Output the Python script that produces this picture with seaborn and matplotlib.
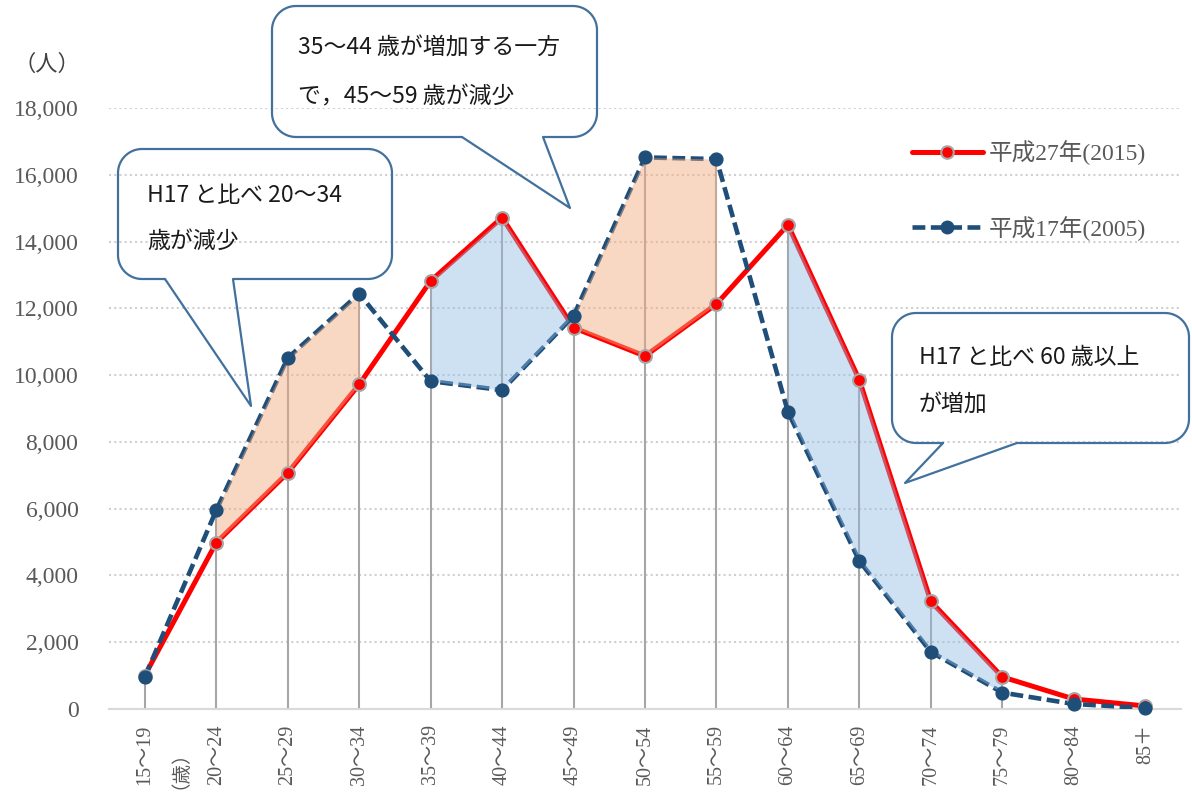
import matplotlib.pyplot as plt
import seaborn as sns
import numpy as np
import pandas as pd
from matplotlib.lines import Line2D

# 年齢階級
ages = ['15～19', '20～24', '25～29', '30～34', '35～39', '40～44', '45～49',
        '50～54', '55～59', '60～64', '65～69', '70～74', '75～79', '80～84', '85＋']
# 人口（人）
pop_2015 = [1000, 4980, 7070, 9720, 12820, 14720, 11420, 10570, 12130, 14500, 9850, 3220, 960, 300, 90]
pop_2005 = [960, 5950, 10510, 12440, 9820, 9550, 11770, 16520, 16470, 8900, 4430, 1710, 490, 150, 30]
yticks = list(range(0, 18001, 2000))
labels = ['平成27年(2015)', '平成17年(2005)']

# 増減の塗り分け区間（開始, 終了の階級番号）
orange_spans = [(1, 3), (6, 8)]
blue_spans = [(4, 6), (9, 12)]

callouts = [
    dict(box=(118, 149, 392, 279), base=(165, 233), tip=(251, 406),
         text=['H17 と比べ 20～34', '歳が減少'], tx=147, ty=(195, 241)),
    dict(box=(272, 6, 597, 137), base=(462, 543), tip=(570, 208),
         text=['35～44 歳が増加する一方', 'で，45～59 歳が減少'], tx=298, ty=(48, 97)),
    dict(box=(892, 313, 1189, 443), base=(943, 1017), tip=(905, 483),
         text=['H17 と比べ 60 歳以上', 'が増加'], tx=919, ty=(357, 405)),
]

sns.set_style('white')
plt.rcParams['font.family'] = ['Liberation Serif', 'Noto Sans CJK JP']

W, H = 1192, 794
fig = plt.figure(figsize=(W / 100, H / 100), dpi=100)
ax = fig.add_axes([109 / W, 1 - 709 / H, (1181 - 109) / W, (709 - 108) / H])

df = pd.DataFrame({'pos': np.arange(len(ages)), 'age': ages,
                   'p2015': pop_2015, 'p2005': pop_2005})
x = df['pos'].values

# 垂直線（ドロップライン）
ax.vlines(x, 0, np.maximum(pop_2015, pop_2005), color='#A6A6A6', lw=1.5, zorder=2)

# 折れ線
sns.lineplot(data=df, x='pos', y='p2015', color='#FF0000', lw=3.6, ax=ax, zorder=3)
sns.lineplot(data=df, x='pos', y='p2005', color='#1F4E79', lw=3.3,
             linestyle=(0, (2.8, 1.2)), ax=ax, zorder=3)

# 増減の塗り
for a, b in orange_spans:
    ax.fill_between(x[a:b + 1], df['p2015'][a:b + 1], df['p2005'][a:b + 1],
                    color='#F2AA80', alpha=0.47, lw=0, zorder=4)
for a, b in blue_spans:
    ax.fill_between(x[a:b + 1], df['p2015'][a:b + 1], df['p2005'][a:b + 1],
                    color='#8FBAE3', alpha=0.43, lw=0, zorder=4)

# マーカー
sns.scatterplot(data=df, x='pos', y='p2015', s=85, color='#FF0000', edgecolor='#A6A6A6',
                linewidth=1.5, ax=ax, zorder=5, clip_on=False)
sns.scatterplot(data=df, x='pos', y='p2005', s=85, color='#1F4E79', edgecolor='#1F4E79',
                linewidth=1, ax=ax, zorder=6, clip_on=False)

ax.set_xlim(-0.5, len(ages) - 0.5)
ax.set_ylim(0, 18000)
ax.set_yticks(yticks)
ax.set_yticklabels([f'{v:,}' for v in yticks], fontsize=17, color='#595959')
ax.set_xticks(x)
ax.set_xticklabels(ages, rotation=90, fontsize=14.5, color='#595959')
ax.tick_params(axis='y', length=0, pad=22)
ax.tick_params(axis='x', length=0, pad=11)
ax.set_xlabel('')
ax.set_ylabel('')
ax.yaxis.grid(True, color='#D0D0D0', linestyle=(0, (1, 1.5)), lw=1.5)
ax.set_axisbelow(True)
for s in ['left', 'right', 'top']:
    ax.spines[s].set_visible(False)
ax.spines['bottom'].set_color('#D9D9D9')
ax.spines['bottom'].set_linewidth(1.5)

# 凡例
h1 = Line2D([], [], color='#FF0000', lw=3.6, marker='o', ms=9, mfc='#FF0000',
            mec='#A6A6A6', mew=1.5)
h2 = Line2D([], [], color='#1F4E79', lw=3.3, linestyle=(0, (2.8, 1.2)), marker='o',
            ms=9, mfc='#1F4E79', mec='#1F4E79')
ax.legend([h1, h2], labels, loc='upper left', bbox_to_anchor=(912 / W, 1 - 140 / H),
          bbox_transform=fig.transFigure, frameon=False, fontsize=17, handlelength=3.0,
          handletextpad=0.25, labelspacing=2.15, borderpad=0, borderaxespad=0,
          labelcolor='#595959')

# 単位
tr = fig.dpi_scale_trans
fig.text(47 / 100, (H - 65) / 100, '（人）', transform=tr, fontsize=16, color='#404040',
         ha='center', va='center')
fig.text(170 / 100, (H - 760) / 100, '（歳）', transform=tr, fontsize=14, color='#595959',
         ha='center', va='center', rotation=90)


# 吹き出し
def balloon(box, base, tip, r=24):
    x0, y0, x1, y1 = box
    pts = [(base[0], y1), tip, (base[1], y1)]
    for cx, cy, t0, t1 in [(x1 - r, y1 - r, 90, 0), (x1 - r, y0 + r, 0, -90),
                           (x0 + r, y0 + r, -90, -180), (x0 + r, y1 - r, 180, 90)]:
        t = np.radians(np.linspace(t0, t1, 20))
        pts += list(zip(cx + r * np.cos(t), cy + r * np.sin(t)))
    pts.append((base[0], y1))
    px = np.array([p[0] for p in pts]) / 100
    py = (H - np.array([p[1] for p in pts])) / 100
    fig.add_artist(Line2D(px, py, transform=tr, color='#41719C', lw=1.6))


for c in callouts:
    balloon(c['box'], c['base'], c['tip'])
    for line, yy in zip(c['text'], c['ty']):
        fig.text(c['tx'] / 100, (H - yy) / 100, line, transform=tr, fontsize=16.5,
                 family=['Noto Sans CJK JP'], color='#1A1A1A', ha='left', va='center')

fig.savefig('out.png', dpi=100)
